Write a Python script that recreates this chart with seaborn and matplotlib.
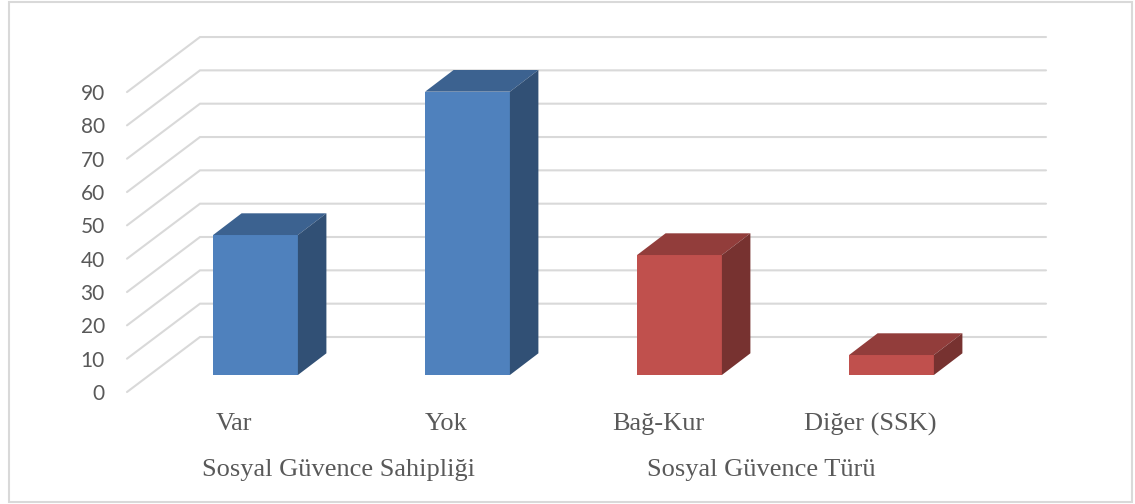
import numpy as np
import pandas as pd
import matplotlib
matplotlib.use('Agg')
import matplotlib.pyplot as plt
from matplotlib.patches import Polygon, Rectangle
import seaborn as sns

categories = ['Var', 'Yok', 'Bağ-Kur', 'Diğer (SSK)']
values = [42, 85, 36, 6]
groups = ['Sosyal Güvence Sahipliği', 'Sosyal Güvence Sahipliği', 'Sosyal Güvence Türü', 'Sosyal Güvence Türü']
group_colors = ['#4f81bd', '#c0504d']
y_ticks = [0, 10, 20, 30, 40, 50, 60, 70, 80, 90]

W, H = 1135, 504
X_UNIT = 212.0      # px per category
Y_UNIT = 3.333      # px per value unit
X0_PX, Y0_PX = 255.5, 375.0   # where first category / value 0 land

# fake 3D depth, in data units
bar_dx = 28.5 / X_UNIT
bar_dy = 21.7 / Y_UNIT
wall_front = (375 - 392) / Y_UNIT
wall_back = (375 - 337) / Y_UNIT
wall_x0 = (127 - X0_PX) / X_UNIT
wall_x1 = (200 - X0_PX) / X_UNIT
wall_x2 = (1046 - X0_PX) / X_UNIT

sns.set_theme(style='white')
plt.rcParams['font.family'] = ['Liberation Serif', 'DejaVu Serif']

df = pd.DataFrame({'category': categories, 'value': values, 'group': groups})

fig = plt.figure(figsize=(W / 100, H / 100), dpi=100, facecolor='white')
ax = fig.add_axes([127 / W, (H - 392) / H, (1046 - 127) / W, (392 - 20) / H])
sns.barplot(data=df, x='category', y='value', hue='group', palette=group_colors,
            order=categories, dodge=False, width=0.4, saturation=1, legend=False,
            linewidth=0, zorder=3, ax=ax)

ax.set_xlim(wall_x0, wall_x0 + (1046 - 127) / X_UNIT)
ax.set_ylim(wall_front, wall_front + (392 - 20) / Y_UNIT)
for s in ax.spines.values():
    s.set_visible(False)
ax.set_xlabel('')
ax.set_ylabel('')

# wall gridlines, with the diagonal floor part
for v in y_ticks:
    ax.plot([wall_x0, wall_x1, wall_x2], [v + wall_front, v + wall_back, v + wall_back],
            color='#d9d9d9', lw=1.5, zorder=1, clip_on=False, solid_joinstyle='miter')

# top and side of each bar
for bar in list(ax.patches):
    x, w, h = bar.get_x(), bar.get_width(), bar.get_height()
    rgb = np.array(bar.get_facecolor()[:3])
    top = [(x, h), (x + bar_dx, h + bar_dy), (x + w + bar_dx, h + bar_dy), (x + w, h)]
    side = [(x + w, 0), (x + w + bar_dx, bar_dy), (x + w + bar_dx, h + bar_dy), (x + w, h)]
    ax.add_patch(Polygon(top, closed=True, fc=rgb * 0.76, ec='none', zorder=3))
    ax.add_patch(Polygon(side, closed=True, fc=rgb * 0.62, ec='none', zorder=3))

ax.set_yticks(np.array(y_ticks) + wall_front, labels=[str(v) for v in y_ticks])
ax.tick_params(axis='y', length=0, pad=16, labelsize=15, labelcolor='#595959', labelfontfamily='Lato')
ax.set_xticks(np.arange(len(categories)) - 0.1, labels=categories)
ax.tick_params(axis='x', length=0, pad=15, labelsize=19, labelcolor='#595959')

group_x = [0.5 - 0.11, 2.5 - 0.115]
for gx, name in zip(group_x, ['Sosyal Güvence Sahipliği', 'Sosyal Güvence Türü']):
    ax.text(gx, (375 - 470) / Y_UNIT, name, ha='center', va='center', fontsize=19,
            color='#595959', clip_on=False)

# chart border
fig.add_artist(Rectangle((8.5 / W, (H - 502) / H), (1132 - 8.5) / W, (502 - 1.5) / H,
                         transform=fig.transFigure, fill=False, ec='#d9d9d9', lw=1.5))

fig.savefig('out.png', dpi=100)
